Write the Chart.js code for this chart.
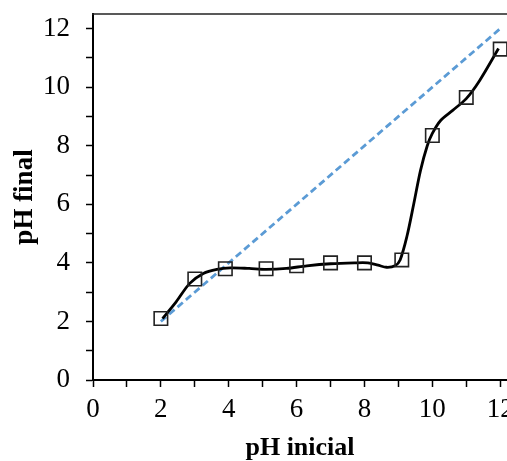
<!DOCTYPE html>
<html>
<head>
<meta charset="utf-8">
<script src="https://cdn.jsdelivr.net/npm/chart.js@4/dist/chart.umd.min.js"></script>
<style>
html,body{margin:0;padding:0;background:#fff;overflow:hidden;width:507px;height:461px;}
#wrap{width:540px;height:461px;position:relative;}
</style>
</head>
<body>
<div id="wrap"><canvas id="c" width="540" height="461"></canvas></div>
<script>
const phInicial = [2, 3, 3.9, 5.1, 6, 7, 8, 9.1, 10, 11, 12];
const phFinal   = [2.1, 3.45, 3.8, 3.8, 3.9, 4.0, 4.0, 4.1, 8.35, 9.65, 11.3];
// Smoothed curve
const curveX = [2.05, 2.45, 2.85, 3.25, 3.65, 4.05, 4.6, 5.1, 5.7, 6.3, 7, 7.7, 8.1, 8.4, 8.65, 8.9, 9.05, 9.25, 9.45, 9.65, 9.85, 10, 10.25, 10.6, 11, 11.4, 11.95];
const curveY = [2.1, 2.67, 3.3, 3.64, 3.78, 3.83, 3.81, 3.78, 3.81, 3.9, 3.97, 4.0, 4.0, 3.92, 3.85, 3.9, 4.1, 4.9, 6.0, 7.15, 8.0, 8.42, 8.87, 9.21, 9.61, 10.24, 11.32];
// 1:1 reference line
const refLineX  = [2, 12];
const refLineY  = [2, 12];
const xTickLabels = [0, 2, 4, 6, 8, 10, 12];
const yTickLabels = [0, 2, 4, 6, 8, 10, 12];
const xTitle = 'pH inicial';
const yTitle = 'pH final';

const measured = phInicial.map((x, i) => ({x, y: phFinal[i]}));
const curve = curveX.map((x, i) => ({x, y: curveY[i]}));
const reference = refLineX.map((x, i) => ({x, y: refLineY[i]}));

const topBorder = {
  id: 'topBorder',
  afterDraw(chart) {
    const {ctx, chartArea} = chart;
    ctx.save();
    ctx.strokeStyle = '#222';
    ctx.lineWidth = 1.5;
    ctx.beginPath();
    ctx.moveTo(chartArea.left - 1, chartArea.top);
    ctx.lineTo(chartArea.right + 40, chartArea.top);
    ctx.stroke();
    ctx.restore();
  }
};

const font = {family: '"Liberation Serif", "Times New Roman", serif', size: 27};
const titleFont = {family: '"Liberation Serif", "Times New Roman", serif', size: 26, weight: 'bold', lineHeight: 1.0};

new Chart(document.getElementById('c'), {
  type: 'scatter',
  data: {
    datasets: [
      {
        label: 'referencia',
        data: reference,
        showLine: true,
        borderColor: '#5B9BD5',
        borderWidth: 2.8,
        borderDash: [7, 4],
        pointRadius: 0,
        order: 3
      },
      {
        label: 'curva',
        data: curve,
        showLine: true,
        borderColor: '#000',
        borderWidth: 2.8,
        tension: 0.3,
        pointRadius: 0,
        order: 2
      },
      {
        label: 'pH',
        data: measured,
        showLine: false,
        pointStyle: 'rect',
        pointRadius: 9.5,
        pointBorderWidth: 1.6,
        pointBorderColor: '#222',
        pointBackgroundColor: 'rgba(255,255,255,0)',
        order: 1
      }
    ]
  },
  options: {
    responsive: false,
    animation: false,
    layout: {padding: {left: 0, right: 33, top: 14, bottom: 0}},
    plugins: {legend: {display: false}, tooltip: {enabled: false}},
    scales: {
      x: {
        type: 'linear',
        min: 0, max: 12.2,
        afterFit(s) { s.height = 81; s.paddingLeft = 0; s.paddingRight = 0; },
        ticks: {
          stepSize: 1, includeBounds: false, autoSkip: false, maxRotation: 0,
          color: '#000', font, padding: 7,
          callback: v => xTickLabels.includes(v) ? String(v) : ''
        },
        grid: {drawOnChartArea: false, drawTicks: true, tickLength: 7, tickColor: '#000', tickWidth: 1.5},
        border: {color: '#000', width: 2},
        title: {display: true, text: xTitle, color: '#000', font: titleFont, padding: {top: 0, bottom: 0}}
      },
      y: {
        type: 'linear',
        min: 0, max: 12.5,
        afterFit(s) { s.width = 93; s.paddingTop = 0; s.paddingBottom = 0; },
        ticks: {
          stepSize: 1, includeBounds: false, autoSkip: false,
          color: '#000', font, padding: 16,
          callback: v => yTickLabels.includes(v) ? String(v) : ''
        },
        grid: {drawOnChartArea: false, drawTicks: true, tickLength: 7, tickColor: '#000', tickWidth: 1.5},
        border: {color: '#000', width: 2},
        title: {display: true, text: yTitle, color: '#000', font: {family: titleFont.family, size: 27, weight: 'bold', lineHeight: 1.2}, padding: {top: 9, bottom: 0}}
      }
    }
  },
  plugins: [topBorder]
});
</script>
</body>
</html>
